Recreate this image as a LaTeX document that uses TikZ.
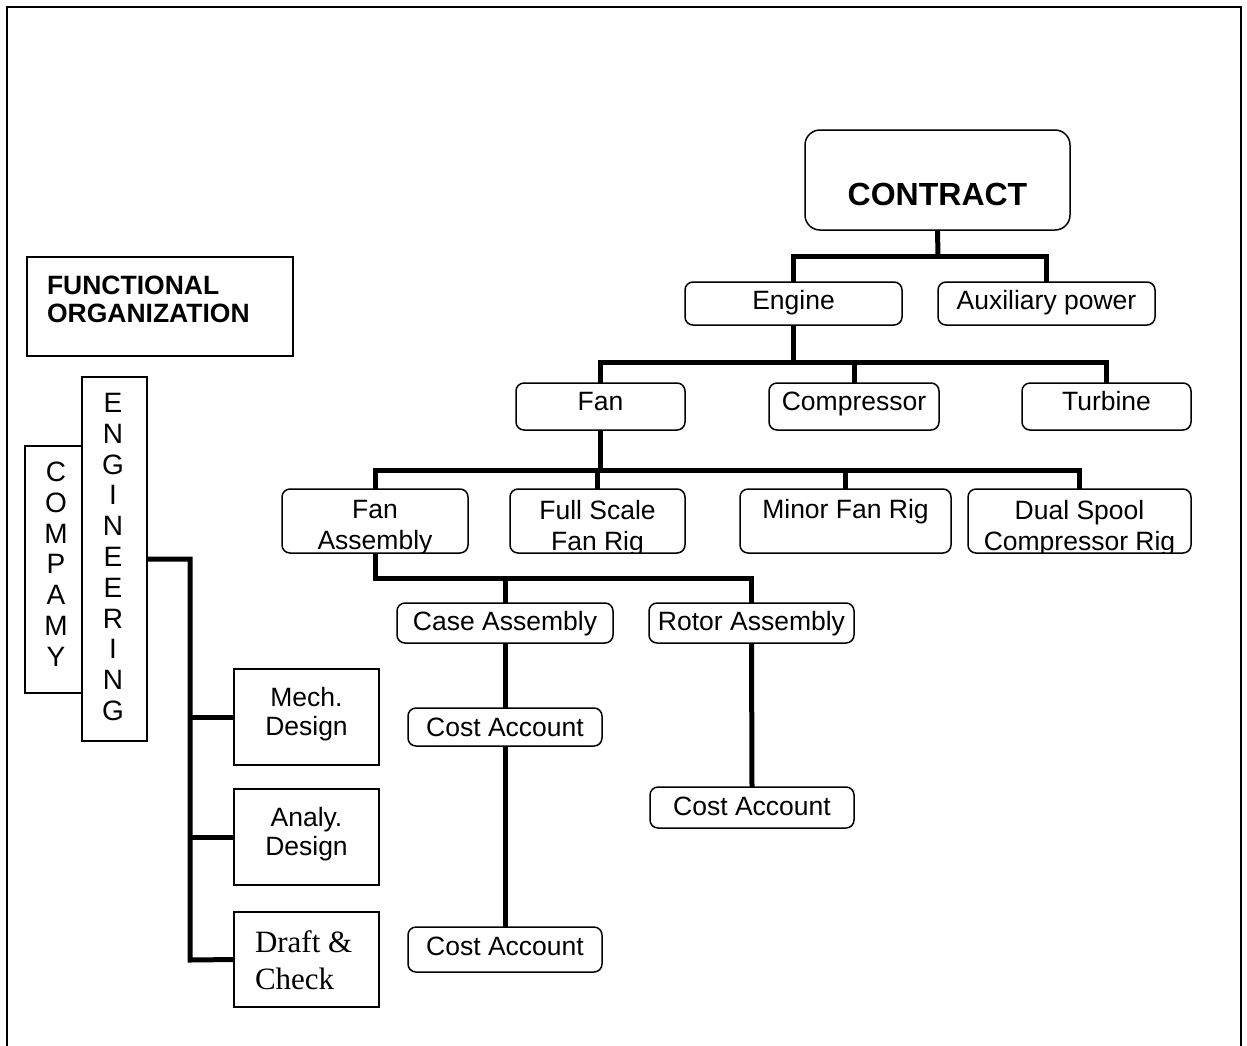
\documentclass[tikz,border=0pt]{standalone}
\usepackage{fontspec}
\setmainfont{Liberation Sans}
\newfontfamily\serifface{Liberation Serif}

% Box with its label hung from the top edge; the label is clipped to the box
% #1 label options, #2 box style, #3 name, #4-#7 x1 y1 x2 y2, #8 label drop, #9 label
\newcommand{\tbox}[9][]{%
  \node[#2, minimum width={#6-#4}, minimum height={#7-#5}]
    (#3) at ({(#4+#6)/2},{(#5+#7)/2}) {};
  \begin{scope}
    \clip[rounded corners=6pt] (#4,#5) rectangle (#6,#7-0.8);
    \node[lbl, anchor=north, #1] (#3-t) at ({(#4+#6)/2},{#5+#8}) {\vphantom{C}#9};
  \end{scope}}

\begin{document}
\begin{tikzpicture}[x=1pt,y=-1pt,
  rbox/.style={draw, line width=1.5pt, rounded corners=8pt, fill=white,
    inner sep=0pt, outer sep=0pt},
  bigbox/.style={rbox, rounded corners=15pt},
  sbox/.style={draw, line width=1.5pt, fill=white, inner sep=0pt, outer sep=0pt},
  lbl/.style={inner sep=0pt, outer sep=0pt, align=center,
    font=\fontsize{26.5}{31}\selectfont},
  conn/.style={line width=5pt},
]
\useasboundingbox (0,0) rectangle (1247,1045);

% outer frame
\draw[line width=2.2pt] (7,1060) -- (7,7) -- (1241,7) -- (1241,1060);

% junction points of the tree
\coordinate (j1) at (938,256);
\coordinate (j2) at (793.5,362);
\coordinate (j3) at (600.5,470);
\coordinate (j4) at (375,578);
\coordinate (spine) at (190,960);

% ---------------- work breakdown tree ----------------
\tbox[font=\fontsize{32}{36}\selectfont\bfseries]{bigbox}{contract}{805}{130}{1070}{230}{53}{CONTRACT}
\tbox{rbox}{engine}{685}{282}{902}{325}{8.5}{Engine}
\tbox{rbox}{aux}{938}{282}{1155}{325}{8.5}{Auxiliary power}

\tbox{rbox}{fan}{516}{383}{685}{430}{8.5}{Fan}
\tbox{rbox}{comp}{769}{383}{939}{430}{8.5}{Compressor}
\tbox{rbox}{turb}{1022}{383}{1191}{430}{8.5}{Turbine}

\tbox{rbox}{fasm}{282}{489}{468}{553}{11}{Fan\\Assembly}
\tbox{rbox}{full}{510}{489}{685}{553}{11}{Full Scale\\Fan Rig}
\tbox{rbox}{minor}{740}{489}{951}{553}{10}{Minor Fan Rig}
\tbox{rbox}{dual}{968}{489}{1191}{553}{11}{Dual Spool\\Compressor Rig}

\tbox{rbox}{case}{397}{603}{613}{643}{8.5}{Case Assembly}
\tbox{rbox}{rotor}{649}{603}{854}{643}{8.5}{Rotor Assembly}

\tbox{rbox}{costa}{408}{708}{602}{746}{10}{Cost Account}
\tbox{rbox}{costb}{650}{787}{854}{828}{10}{Cost Account}
\tbox{rbox}{costc}{408}{927}{602}{972}{10}{Cost Account}

% ---------------- functional side ----------------
\node[sbox, minimum width=266, minimum height=99] (func) at (160,306.5) {};
\node[lbl, align=left, anchor=north west,
  font=\fontsize{26.5}{28}\selectfont\bfseries] (funclabel) at (47,276)
  {\vphantom{C}FUNCTIONAL\\ORGANIZATION};

\tbox[font=\fontsize{28}{30.8}\selectfont, xshift=2.5pt]{sbox}{company}{25}{446}{82}{693}{16}{C\\O\\M\\P\\A\\M\\Y}
\tbox[font=\fontsize{28}{30.8}\selectfont, xshift=-1.5pt]{sbox}{eng}{82}{377}{147}{741}{16}{E\\N\\G\\I\\N\\E\\E\\R\\I\\N\\G}

\tbox[font=\fontsize{26.5}{29}\selectfont]{sbox}{mech}{234}{669}{379}{765}{18}{Mech.\\Design}
\tbox[font=\fontsize{26.5}{29}\selectfont]{sbox}{analy}{234}{789}{379}{885}{18}{Analy.\\Design}
\tbox[font=\serifface\fontsize{31}{37}\selectfont, align=left, anchor=north west,
  xshift=-51.5pt]{sbox}{draft}{234}{912}{379}{1007}{19}{Draft \&\\Check}

% ---------------- connectors ----------------
\draw[conn] (contract.south) -- (j1);
\draw[conn] (engine.north) |- (j1) -| (aux.north);

\draw[conn] (engine.south) -- (j2);
\draw[conn] (fan.north) |- (j2) -| (turb.north);
\draw[conn] (comp.north) -- (comp.north |- j2);

\draw[conn] (fan.south) -- (j3);
\draw[conn] (fasm.north) |- (j3) -| (dual.north);
\draw[conn] (full.north) -- (full.north |- j3);
\draw[conn] (minor.north) -- (minor.north |- j3);

\draw[conn] (fasm.south) -- (j4) -| (rotor.north);
\draw[conn] (case.north) -- (case.north |- j4);

\draw[conn] (case.south) -- (costa.north);
\draw[conn] (costa.south) -- (costc.north);
\draw[conn] (rotor.south) -- (costb.north);

\draw[conn] (eng.east) -| (spine) -- (draft.west);
\draw[conn] (mech.west) -- (mech.west -| spine);
\draw[conn] (analy.west) -- (analy.west -| spine);
\end{tikzpicture}
\end{document}
